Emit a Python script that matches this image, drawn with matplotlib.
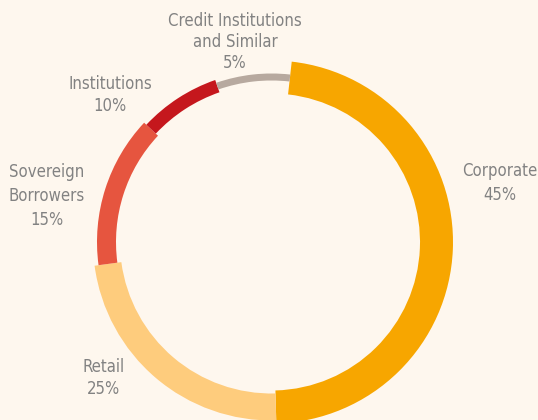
import matplotlib
matplotlib.use("Agg")
import matplotlib.pyplot as plt

# ---- data ----
categories = ["Corporate", "Retail", "Sovereign\nBorrowers", "Institutions", "Credit Institutions\nand Similar"]
share_labels = ["45%", "25%", "15%", "10%", "5%"]
# arc sizes as read from the drawn ring (share of the full circle)
arc_sizes = [47.8, 23.3, 14.1, 7.7, 7.1]
# ring thickness of each segment (px)
thickness = [33, 27, 19, 13, 7]
colors = ["#F7A600", "#FECC7D", "#E6553F", "#C5171D", "#B7A99F"]

BG = "#FEF7EE"
TXT = "#828282"

W, H = 538, 420
fig = plt.figure(figsize=(W / 100, H / 100), dpi=100, facecolor=BG)
ax = fig.add_axes([0, 0, 1, 1])
ax.set_facecolor(BG)

cx, cy = 271.5, H - 242
r_mid = 165

wedges, _ = ax.pie(arc_sizes, colors=colors, startangle=90 - 6.4, counterclock=False,
                   center=(cx, cy), radius=r_mid, frame=True,
                   wedgeprops=dict(linewidth=0))
for w, t in zip(wedges, thickness):
    w.set_radius(r_mid + t / 2)
    w.set_width(t)
ax.set_xlim(0, W)
ax.set_ylim(0, H)
ax.set_aspect("equal")
ax.axis("off")

label_pos = [(500, H - 183), (104, H - 378), (47, H - 196), (110, H - 95), (235, H - 42)]
spacing = [1.45, 1.35, 1.45, 1.35, 1.25]
for cat, pct, (x, y), ls in zip(categories, share_labels, label_pos, spacing):
    ax.text(x, y, f"{cat}\n{pct}", ha="center", va="center", color=TXT,
            fontsize=12, family="DejaVu Sans", fontstretch="condensed",
            linespacing=ls)

fig.savefig("out.png", dpi=100, facecolor=BG)
